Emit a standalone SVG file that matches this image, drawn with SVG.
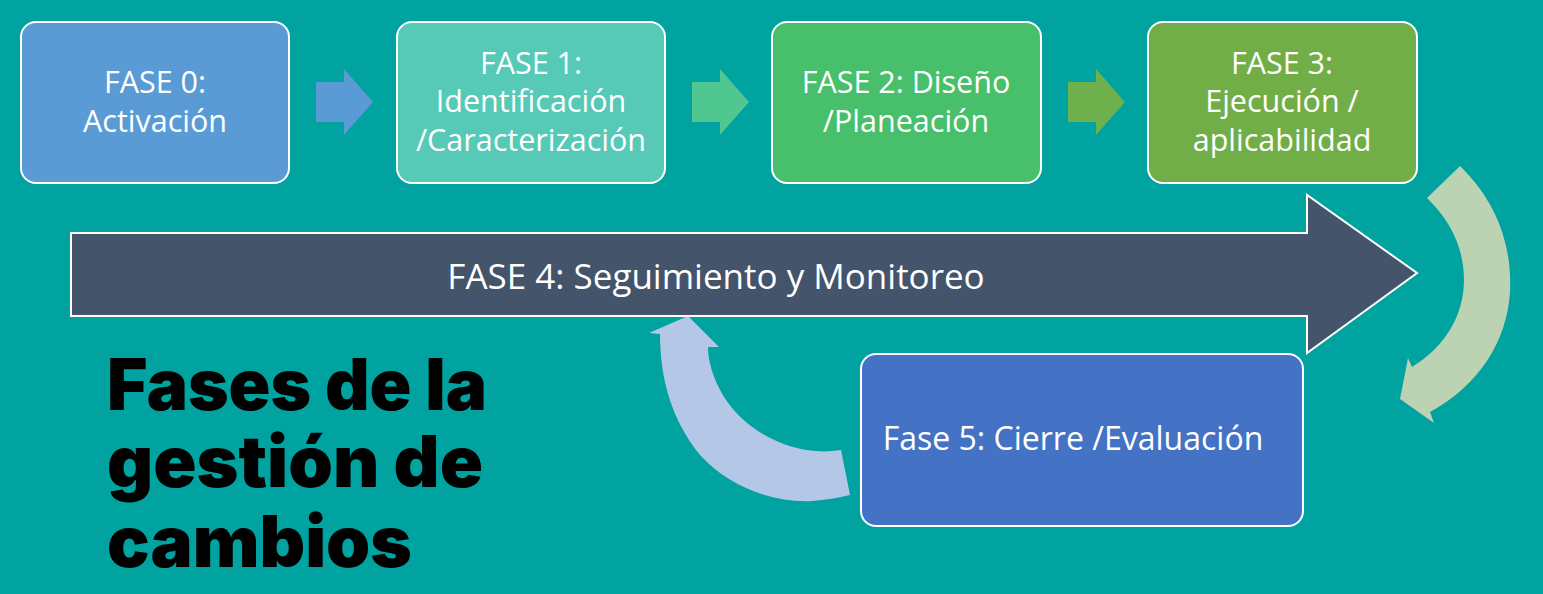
<svg xmlns="http://www.w3.org/2000/svg" width="1543" height="594" viewBox="0 0 1543 594">
<style>
.box{stroke:#FFFFFF;stroke-width:2}
.lbl{font-family:"Open Sans","Liberation Sans",sans-serif;font-size:30.5px;fill:#FFFFFF;text-anchor:middle}
.title{font-family:Inter,"Liberation Sans",sans-serif;font-weight:900;font-size:71px;fill:#000000}
</style>
<rect x="0" y="0" width="1543" height="594" fill="#00A3A0"/>
<g id="connectors">
<polygon points="316,82 344,82 344,69 373,102 344,135 344,122 316,122" fill="#5B9BD5"/>
<polygon points="692,82 720,82 720,69 749,102 720,135 720,122 692,122" fill="#50C690"/>
<polygon points="1068,82 1096,82 1096,69 1125,102 1096,135 1096,122 1068,122" fill="#6DB04C"/>
<path d="M1460,166 C1500,205 1512,250 1510,292 C1507,340 1480,385 1430,412 L1434,423 L1400,399 L1408,358 L1412,367 C1445,347 1464,315 1464,280 C1464,250 1452,222 1427,198 Z" fill="#BCD3B3"/>
<path d="M850,495 L841,450 C795,458 742,432 720,390 C711,372 708,358 708,347 L719,347 L688,316 L649,333 L660,334 C660,380 672,420 700,455 C730,488 775,503 812,501 C825,500 838,498 850,495 Z" fill="#B4C7E7"/>
</g>
<g id="fase4">
<polygon class="box" points="71,233 1307,233 1307,195 1417,273 1307,353 1307,316 71,316" fill="#44546A"/>
<text class="lbl" x="716" y="289" style="font-size:35px">FASE 4: Seguimiento y Monitoreo</text>
</g>
<g id="fase0">
<rect class="box" x="21" y="22" width="268" height="161" rx="15" fill="#5B9BD5"/>
<text class="lbl" x="155" y="93">FASE 0:</text>
<text class="lbl" x="155" y="132">Activación</text>
</g>
<g id="fase1">
<rect class="box" x="397" y="22" width="268" height="161" rx="15" fill="#56CAB7"/>
<text class="lbl" x="531" y="74">FASE 1:</text>
<text class="lbl" x="531" y="112">Identificación</text>
<text class="lbl" x="531" y="151">/Caracterización</text>
</g>
<g id="fase2">
<rect class="box" x="772" y="22" width="269" height="161" rx="15" fill="#48BF6A"/>
<text class="lbl" x="906" y="93">FASE 2: Diseño</text>
<text class="lbl" x="906" y="132">/Planeación</text>
</g>
<g id="fase3">
<rect class="box" x="1148" y="22" width="269" height="161" rx="15" fill="#71AE48"/>
<text class="lbl" x="1282" y="74">FASE 3:</text>
<text class="lbl" x="1282" y="112">Ejecución /</text>
<text class="lbl" x="1282" y="151">aplicabilidad</text>
</g>
<g id="fase5">
<rect class="box" x="861" y="354" width="442" height="172" rx="15" fill="#4472C4"/>
<text class="lbl" x="1073" y="450" style="font-size:32px">Fase 5: Cierre /Evaluación</text>
</g>
<g id="title">
<text class="title" x="107" y="410" textLength="380" lengthAdjust="spacingAndGlyphs">Fases de la</text>
<text class="title" x="107" y="487" textLength="376" lengthAdjust="spacingAndGlyphs">gestión de</text>
<text class="title" x="107" y="567" textLength="305" lengthAdjust="spacingAndGlyphs">cambios</text>
</g>
</svg>
